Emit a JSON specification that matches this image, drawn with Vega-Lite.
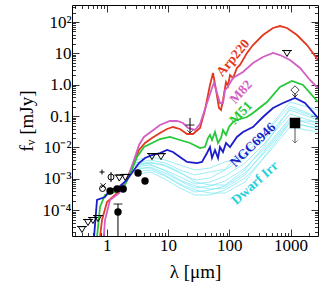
{
"$schema":"https://vega.github.io/schema/vega-lite/v6.json",
"width":246,"height":231,"autosize":"none",
"padding":{"left":72,"top":5,"right":9,"bottom":59},
"config":{"view":{"stroke":"#000","strokeWidth":1},"font":"Liberation Serif",
 "axis":{"domain":false,"grid":false,"tickColor":"#000","labelColor":"#000","titleColor":"#000","labelFont":"Liberation Serif","titleFont":"Liberation Serif","labelFontSize":17,"titleFontSize":19,"titleFontWeight":"normal","tickWidth":0.8,"labelOverlap":false,"labelBound":false,"labelFlush":false}},
"datasets":{
"dwarf":[
{"id":"L1","lam":2.88,"f":3.98e-3},{"id":"L1","lam":5.07,"f":4.96e-3},{"id":"L1","lam":8.91,"f":3.98e-3},{"id":"L1","lam":15.6,"f":2.75e-3},{"id":"L1","lam":27.5,"f":1.91e-3},{"id":"L1","lam":48.3,"f":2.21e-3},{"id":"L1","lam":85,"f":3.44e-3},{"id":"L1","lam":180,"f":5.5e-3},{"id":"L1","lam":382,"f":0.03},{"id":"L1","lam":977,"f":0.282},{"id":"L1","lam":2800,"f":0.157},
{"id":"L2","lam":2.88,"f":3.19e-3},{"id":"L2","lam":5.07,"f":3.98e-3},{"id":"L2","lam":8.91,"f":3.19e-3},{"id":"L2","lam":15.6,"f":1.91e-3},{"id":"L2","lam":27.5,"f":1.32e-3},{"id":"L2","lam":48.3,"f":1.65e-3},{"id":"L2","lam":85,"f":2.0e-3},{"id":"L2","lam":180,"f":9.0e-3},{"id":"L2","lam":382,"f":0.0289},{"id":"L2","lam":977,"f":0.21},{"id":"L2","lam":2800,"f":0.0936},
{"id":"L3","lam":2.88,"f":2.75e-3},{"id":"L3","lam":5.07,"f":3.44e-3},{"id":"L3","lam":8.91,"f":2.56e-3},{"id":"L3","lam":15.6,"f":1.53e-3},{"id":"L3","lam":27.5,"f":9.16e-4},{"id":"L3","lam":48.3,"f":1.06e-3},{"id":"L3","lam":85,"f":1.91e-3},{"id":"L3","lam":180,"f":4.96e-3},{"id":"L3","lam":382,"f":0.02},{"id":"L3","lam":977,"f":0.157},{"id":"L3","lam":2800,"f":0.0751},
{"id":"L4","lam":2.88,"f":2.38e-3},{"id":"L4","lam":5.07,"f":2.75e-3},{"id":"L4","lam":8.91,"f":1.91e-3},{"id":"L4","lam":15.6,"f":1.14e-3},{"id":"L4","lam":27.5,"f":6.83e-4},{"id":"L4","lam":48.3,"f":7.91e-4},{"id":"L4","lam":85,"f":1.23e-3},{"id":"L4","lam":180,"f":3.19e-3},{"id":"L4","lam":382,"f":0.0139},{"id":"L4","lam":977,"f":0.117},{"id":"L4","lam":2800,"f":0.0603},
{"id":"L5","lam":2.88,"f":1.91e-3},{"id":"L5","lam":5.07,"f":2.38e-3},{"id":"L5","lam":8.91,"f":1.53e-3},{"id":"L5","lam":15.6,"f":8.51e-4},{"id":"L5","lam":27.5,"f":5.09e-4},{"id":"L5","lam":48.3,"f":5.89e-4},{"id":"L5","lam":85,"f":8.51e-4},{"id":"L5","lam":180,"f":2.21e-3},{"id":"L5","lam":382,"f":9.6e-3},{"id":"L5","lam":977,"f":0.0871},{"id":"L5","lam":2800,"f":0.0483},
{"id":"L6","lam":2.88,"f":1.65e-3},{"id":"L6","lam":5.07,"f":1.91e-3},{"id":"L6","lam":8.91,"f":1.23e-3},{"id":"L6","lam":15.6,"f":6.34e-4},{"id":"L6","lam":27.5,"f":3.79e-4},{"id":"L6","lam":48.3,"f":4.4e-4},{"id":"L6","lam":85,"f":5.89e-4},{"id":"L6","lam":180,"f":1.53e-3},{"id":"L6","lam":382,"f":7.16e-3},{"id":"L6","lam":977,"f":0.0649},{"id":"L6","lam":2800,"f":0.0388},
{"id":"L7","lam":2.88,"f":1.32e-3},{"id":"L7","lam":5.07,"f":1.65e-3},{"id":"L7","lam":8.91,"f":9.86e-4},{"id":"L7","lam":15.6,"f":5.09e-4},{"id":"L7","lam":27.5,"f":3.04e-4},{"id":"L7","lam":48.3,"f":3.04e-4},{"id":"L7","lam":85,"f":4.4e-4},{"id":"L7","lam":180,"f":1.06e-3},{"id":"L7","lam":382,"f":4.96e-3},{"id":"L7","lam":977,"f":0.0449},{"id":"L7","lam":2800,"f":0.0311},
{"id":"L8","lam":2.88,"f":2.21e-3},{"id":"L8","lam":5.07,"f":2.21e-3},{"id":"L8","lam":8.91,"f":1.32e-3},{"id":"L8","lam":15.6,"f":6.83e-4},{"id":"L8","lam":27.5,"f":4.4e-4},{"id":"L8","lam":48.3,"f":3.52e-4},{"id":"L8","lam":85,"f":3.52e-4},{"id":"L8","lam":180,"f":7.91e-4},{"id":"L8","lam":382,"f":5.5e-3},{"id":"L8","lam":977,"f":0.06},{"id":"L8","lam":2800,"f":0.042},
{"id":"L9","lam":2.88,"f":3.44e-3},{"id":"L9","lam":5.07,"f":2.96e-3},{"id":"L9","lam":8.91,"f":1.77e-3},{"id":"L9","lam":15.6,"f":9.16e-4},{"id":"L9","lam":27.5,"f":5.89e-4},{"id":"L9","lam":48.3,"f":4.73e-4},{"id":"L9","lam":85,"f":5.09e-4},{"id":"L9","lam":180,"f":1.32e-3},{"id":"L9","lam":382,"f":8.3e-3},{"id":"L9","lam":977,"f":0.0751},{"id":"L9","lam":2800,"f":0.0649},
{"id":"L10","lam":2.88,"f":2.56e-3},{"id":"L10","lam":5.07,"f":3.19e-3},{"id":"L10","lam":8.91,"f":2.75e-3},{"id":"L10","lam":15.6,"f":1.65e-3},{"id":"L10","lam":27.5,"f":7.91e-4},{"id":"L10","lam":48.3,"f":6.34e-4},{"id":"L10","lam":85,"f":6.34e-4},{"id":"L10","lam":180,"f":1.91e-3},{"id":"L10","lam":382,"f":0.012},{"id":"L10","lam":977,"f":0.181},{"id":"L10","lam":2800,"f":0.0871}
],
"curves":[
{"name":"Arp220","lam":0.76,"f":1.0e-5},{"name":"Arp220","lam":0.834,"f":4.85e-5},{"name":"Arp220","lam":1.006,"f":1.82e-4},{"name":"Arp220","lam":1.36,"f":3.04e-4},{"name":"Arp220","lam":1.98,"f":7.35e-4},{"name":"Arp220","lam":2.57,"f":2.38e-3},{"name":"Arp220","lam":3.35,"f":8.3e-3},{"name":"Arp220","lam":4.2,"f":0.0139},{"name":"Arp220","lam":5.46,"f":0.02},{"name":"Arp220","lam":7.38,"f":0.0289},{"name":"Arp220","lam":9.6,"f":0.0388},{"name":"Arp220","lam":12.0,"f":0.0449},{"name":"Arp220","lam":15.6,"f":0.0388},{"name":"Arp220","lam":20.4,"f":0.0269},{"name":"Arp220","lam":25.5,"f":0.0269},{"name":"Arp220","lam":33.2,"f":0.0418},{"name":"Arp220","lam":40.0,"f":0.157},{"name":"Arp220","lam":44.8,"f":0.471},{"name":"Arp220","lam":48.3,"f":0.982},{"name":"Arp220","lam":54.1,"f":2.37},{"name":"Arp220","lam":60.6,"f":0.681},{"name":"Arp220","lam":67.8,"f":0.181},{"name":"Arp220","lam":73.1,"f":0.157},{"name":"Arp220","lam":78.7,"f":0.327},{"name":"Arp220","lam":88.2,"f":1.22},{"name":"Arp220","lam":95.0,"f":0.912},{"name":"Arp220","lam":102.5,"f":2.05},{"name":"Arp220","lam":114.8,"f":1.64},{"name":"Arp220","lam":133,"f":3.42},{"name":"Arp220","lam":149,"f":4.27},{"name":"Arp220","lam":194,"f":10.3},{"name":"Arp220","lam":243,"f":18.5},{"name":"Arp220","lam":354,"f":38.6},{"name":"Arp220","lam":516,"f":64.6},{"name":"Arp220","lam":671,"f":74.8},{"name":"Arp220","lam":873,"f":64.6},{"name":"Arp220","lam":1271,"f":38.6},{"name":"Arp220","lam":1852,"f":18.5},{"name":"Arp220","lam":2800,"f":6.2},
{"name":"M82","lam":0.88,"f":1.0e-5},{"name":"M82","lam":0.933,"f":4.85e-5},{"name":"M82","lam":1.127,"f":2.11e-4},{"name":"M82","lam":1.58,"f":3.52e-4},{"name":"M82","lam":2.13,"f":9.16e-4},{"name":"M82","lam":2.78,"f":3.98e-3},{"name":"M82","lam":3.35,"f":0.012},{"name":"M82","lam":4.04,"f":0.0216},{"name":"M82","lam":5.46,"f":0.0335},{"name":"M82","lam":7.38,"f":0.052},{"name":"M82","lam":10.7,"f":0.0698},{"name":"M82","lam":14.0,"f":0.0698},{"name":"M82","lam":17.5,"f":0.0603},{"name":"M82","lam":21.1,"f":0.0418},{"name":"M82","lam":27.5,"f":0.0361},{"name":"M82","lam":33.2,"f":0.056},{"name":"M82","lam":43.2,"f":0.262},{"name":"M82","lam":52.1,"f":0.787},{"name":"M82","lam":56.1,"f":1.14},{"name":"M82","lam":62.8,"f":0.546},{"name":"M82","lam":70.3,"f":0.262},{"name":"M82","lam":78.7,"f":0.262},{"name":"M82","lam":85.0,"f":0.681},{"name":"M82","lam":91.5,"f":0.787},{"name":"M82","lam":114.8,"f":1.64},{"name":"M82","lam":167,"f":2.55},{"name":"M82","lam":243,"f":4.94},{"name":"M82","lam":354,"f":7.67},{"name":"M82","lam":516,"f":10.3},{"name":"M82","lam":671,"f":8.89},{"name":"M82","lam":977,"f":6.16},{"name":"M82","lam":1423,"f":3.42},{"name":"M82","lam":2070,"f":1.42},{"name":"M82","lam":2800,"f":0.787},
{"name":"M51","lam":0.68,"f":1.0e-5},{"name":"M51","lam":0.774,"f":1.26e-4},{"name":"M51","lam":0.933,"f":3.04e-4},{"name":"M51","lam":1.36,"f":3.79e-4},{"name":"M51","lam":1.91,"f":5.48e-4},{"name":"M51","lam":2.57,"f":1.91e-3},{"name":"M51","lam":3.11,"f":4.96e-3},{"name":"M51","lam":4.04,"f":0.0103},{"name":"M51","lam":5.46,"f":0.0139},{"name":"M51","lam":7.38,"f":0.0186},{"name":"M51","lam":10.7,"f":0.0216},{"name":"M51","lam":15.6,"f":0.0173},{"name":"M51","lam":22.8,"f":0.0139},{"name":"M51","lam":33.2,"f":0.0096},{"name":"M51","lam":40.0,"f":0.0103},{"name":"M51","lam":44.8,"f":0.02},{"name":"M51","lam":48.3,"f":0.025},{"name":"M51","lam":52.1,"f":0.0173},{"name":"M51","lam":58.3,"f":0.0311},{"name":"M51","lam":65.3,"f":0.0139},{"name":"M51","lam":73.1,"f":0.02},{"name":"M51","lam":78.7,"f":0.0361},{"name":"M51","lam":88.2,"f":0.025},{"name":"M51","lam":98.6,"f":0.0449},{"name":"M51","lam":114.8,"f":0.0649},{"name":"M51","lam":133,"f":0.0751},{"name":"M51","lam":194,"f":0.0936},{"name":"M51","lam":243,"f":0.126},{"name":"M51","lam":412,"f":0.282},{"name":"M51","lam":671,"f":0.848},{"name":"M51","lam":1052,"f":1.32},{"name":"M51","lam":1593,"f":0.982},{"name":"M51","lam":2800,"f":0.282},
{"name":"NGC6946","lam":0.61,"f":1.0e-5},{"name":"NGC6946","lam":0.691,"f":2.11e-4},{"name":"NGC6946","lam":0.933,"f":2.63e-4},{"name":"NGC6946","lam":1.127,"f":4.4e-4},{"name":"NGC6946","lam":1.58,"f":5.48e-4},{"name":"NGC6946","lam":2.13,"f":9.16e-4},{"name":"NGC6946","lam":2.78,"f":1.91e-3},{"name":"NGC6946","lam":3.35,"f":3.19e-3},{"name":"NGC6946","lam":4.2,"f":4.61e-3},{"name":"NGC6946","lam":5.46,"f":5.74e-3},{"name":"NGC6946","lam":7.38,"f":6.65e-3},{"name":"NGC6946","lam":9.6,"f":8.3e-3},{"name":"NGC6946","lam":12.0,"f":7.16e-3},{"name":"NGC6946","lam":15.6,"f":4.96e-3},{"name":"NGC6946","lam":20.4,"f":3.44e-3},{"name":"NGC6946","lam":29.6,"f":3.19e-3},{"name":"NGC6946","lam":35.7,"f":3.44e-3},{"name":"NGC6946","lam":43.2,"f":6.65e-3},{"name":"NGC6946","lam":48.3,"f":0.0103},{"name":"NGC6946","lam":52.1,"f":4.61e-3},{"name":"NGC6946","lam":58.3,"f":8.3e-3},{"name":"NGC6946","lam":65.3,"f":4.61e-3},{"name":"NGC6946","lam":70.3,"f":0.0103},{"name":"NGC6946","lam":78.7,"f":7.16e-3},{"name":"NGC6946","lam":88.2,"f":0.0139},{"name":"NGC6946","lam":102.5,"f":0.0103},{"name":"NGC6946","lam":133,"f":0.0216},{"name":"NGC6946","lam":167,"f":0.0311},{"name":"NGC6946","lam":243,"f":0.0449},{"name":"NGC6946","lam":354,"f":0.0936},{"name":"NGC6946","lam":516,"f":0.181},{"name":"NGC6946","lam":751,"f":0.262},{"name":"NGC6946","lam":1180,"f":0.378},{"name":"NGC6946","lam":1717,"f":0.262},{"name":"NGC6946","lam":2800,"f":0.0871}
],
"labels":[
{"name":"Arp220","lam":115,"f":7.13},
{"name":"M82","lam":155,"f":0.587},
{"name":"M51","lam":155,"f":0.126},
{"name":"NGC6946","lam":243,"f":0.012},
{"name":"Dwarf Irr","lam":262,"f":7.35e-4}
],
"ul":[
{"lam":0.393,"f":2.5e-5},{"lam":0.492,"f":4.19e-5},{"lam":0.594,"f":4.85e-5},{"lam":0.717,"f":5.62e-5},
{"lam":1.6,"f":1.1e-3},{"lam":2.0,"f":1.15e-3},{"lam":5.46,"f":5.3e-3},{"lam":7.66,"f":5.3e-3},{"lam":873,"f":10.3}
],
"det":[
{"lam":1.13,"f":4.08e-4},{"lam":1.47,"f":4.73e-4},{"lam":1.85,"f":4.73e-4},{"lam":3.23,"f":1.53e-3},{"lam":4.2,"f":8.51e-4},{"lam":1.52,"f":8.73e-5}
],
"err":[
{"lam":1.52,"f":1.57e-4,"f2":1e-6},{"lam":1.17,"f":1.65e-3,"f2":7.9e-4},
{"lam":22.8,"f":0.0871,"f2":0.0289},{"lam":1180,"f":0.546,"f2":0.407}
],
"arrowGray":[{"lam":1180,"f":0.0603,"f2":0.0139}],
"heads":[{"lam":22.8,"f":0.0289},{"lam":1180,"f":0.407}],
"headGray":[{"lam":1180,"f":0.0139}],
"bars":[{"lam":22.8,"f":0.052},{"lam":1.52,"f":1.57e-4}],
"opencirc":[{"lam":1.17,"f":1.14e-3},{"lam":0.85,"f":4.9e-4}],
"plus":[{"lam":0.834,"f":1.65e-3}],
"cross":[{"lam":0.87,"f":6.0e-4}],
"diamond":[{"lam":1180,"f":0.681}],
"square":[{"lam":1180,"f":0.0603}]
},
"resolve":{"axis":{"x":"independent","y":"independent"}},
"encoding":{
 "x":{"field":"lam","type":"quantitative","scale":{"type":"log","domain":[0.27,2800],"nice":false},"axis":null},
 "y":{"field":"f","type":"quantitative","scale":{"type":"log","domain":[1.5e-5,350],"nice":false},"axis":null}
},
"layer":[
{"data":{"name":"dwarf"},"mark":{"type":"line","color":"#84e9f4","strokeWidth":0.8,"clip":true},
 "encoding":{
  "x":{"field":"lam","type":"quantitative","axis":{"orient":"bottom","values":[0.3,0.4,0.5,0.6,0.7,0.8,0.9,1,2,3,4,5,6,7,8,9,10,20,30,40,50,60,70,80,90,100,200,300,400,500,600,700,800,900,1000,2000],"labelExpr":"datum.value==1?'1':datum.value==10?'10':datum.value==100?'100':datum.value==1000?'1000':''","tickSize":{"condition":{"test":"indexof([1,10,100,1000],datum.value)>=0","value":-7},"value":-3.5},"labelPadding":8,"title":"λ [μm]","titlePadding":6}},
  "y":{"field":"f","type":"quantitative","axis":{"orient":"left","values":[2e-5,3e-5,4e-5,5e-5,6e-5,7e-5,8e-5,9e-5,1e-4,2e-4,3e-4,4e-4,5e-4,6e-4,7e-4,8e-4,9e-4,1e-3,2e-3,3e-3,4e-3,5e-3,6e-3,7e-3,8e-3,9e-3,0.01,0.02,0.03,0.04,0.05,0.06,0.07,0.08,0.09,0.1,0.2,0.3,0.4,0.5,0.6,0.7,0.8,0.9,1,2,3,4,5,6,7,8,9,10,20,30,40,50,60,70,80,90,100,200,300],"labelExpr":"datum.value==100?'10²':datum.value==10?'10':datum.value==1?'1.0':datum.value==0.1?'0.1':datum.value==0.01?'10⁻²':datum.value==0.001?'10⁻³':datum.value==0.0001?'10⁻⁴':''","tickSize":{"condition":{"test":"indexof([100,10,1,0.1,0.01,0.001,0.0001],datum.value)>=0","value":-7},"value":-3.5},"labelPadding":8,"title":"fᵥ [mJy]","titlePadding":6}},
  "detail":{"field":"id"}}},
{"data":{"name":"curves"},"mark":{"type":"line","strokeWidth":1.8,"clip":true},
 "encoding":{
  "x":{"field":"lam","type":"quantitative","axis":{"orient":"top","values":[0.3,0.4,0.5,0.6,0.7,0.8,0.9,1,2,3,4,5,6,7,8,9,10,20,30,40,50,60,70,80,90,100,200,300,400,500,600,700,800,900,1000,2000],"labels":false,"title":null,"tickSize":{"condition":{"test":"indexof([1,10,100,1000],datum.value)>=0","value":-7},"value":-3.5}}},
  "y":{"field":"f","type":"quantitative","axis":{"orient":"right","values":[2e-5,3e-5,4e-5,5e-5,6e-5,7e-5,8e-5,9e-5,1e-4,2e-4,3e-4,4e-4,5e-4,6e-4,7e-4,8e-4,9e-4,1e-3,2e-3,3e-3,4e-3,5e-3,6e-3,7e-3,8e-3,9e-3,0.01,0.02,0.03,0.04,0.05,0.06,0.07,0.08,0.09,0.1,0.2,0.3,0.4,0.5,0.6,0.7,0.8,0.9,1,2,3,4,5,6,7,8,9,10,20,30,40,50,60,70,80,90,100,200,300],"labels":false,"title":null,"tickSize":{"condition":{"test":"indexof([100,10,1,0.1,0.01,0.001,0.0001],datum.value)>=0","value":-7},"value":-3.5}}},
  "color":{"field":"name","type":"nominal","scale":{"domain":["Arp220","M82","M51","NGC6946","Dwarf Irr"],"range":["#e2381f","#d35fc4","#25c837","#1c1ccc","#22d0dc"]},"legend":null}}},
{"data":{"name":"labels"},"mark":{"type":"text","font":"Liberation Serif","fontSize":13.5,"fontWeight":"bold","align":"center","baseline":"middle"},
 "encoding":{"text":{"field":"name"},
  "color":{"field":"name","type":"nominal","legend":null},
  "angle":{"field":"name","type":"nominal","scale":{"domain":["Arp220","M82","M51","NGC6946","Dwarf Irr"],"range":[310,318,325,323,321]},"legend":null}}},
{"data":{"name":"err"},"mark":{"type":"rule","color":"#000","strokeWidth":1,"clip":true},"encoding":{"y2":{"field":"f2"}}},
{"data":{"name":"arrowGray"},"mark":{"type":"rule","color":"#555","strokeWidth":1,"clip":true},"encoding":{"y2":{"field":"f2"}}},
{"data":{"name":"heads"},"mark":{"type":"point","shape":"M-1,-1L0,0L1,-1","filled":false,"color":"#000","strokeWidth":1,"size":30},"encoding":{}},
{"data":{"name":"headGray"},"mark":{"type":"point","shape":"M-1,-1L0,0L1,-1","filled":false,"color":"#555","strokeWidth":1,"size":30},"encoding":{}},
{"data":{"name":"bars"},"mark":{"type":"point","shape":"M-1,0L1,0","filled":false,"color":"#000","strokeWidth":1.2,"size":80},"encoding":{}},
{"data":{"name":"ul"},"mark":{"type":"point","shape":"M-1,-0.7L1,-0.7L0,1ZM-1.4,-0.7L1.4,-0.7","filled":false,"color":"#000","strokeWidth":1,"size":50,"opacity":1},"encoding":{}},
{"data":{"name":"det"},"mark":{"type":"point","shape":"circle","filled":true,"color":"#000","size":55,"opacity":1},"encoding":{}},
{"data":{"name":"opencirc"},"mark":{"type":"point","shape":"circle","filled":false,"color":"#000","strokeWidth":1,"size":35,"opacity":1},"encoding":{}},
{"data":{"name":"plus"},"mark":{"type":"point","shape":"M-1,0L1,0M0,-1L0,1","filled":false,"color":"#000","strokeWidth":1,"size":25,"opacity":1},"encoding":{}},
{"data":{"name":"cross"},"mark":{"type":"point","shape":"M-1,-1L1,1M-1,1L1,-1","filled":false,"color":"#000","strokeWidth":1,"size":25,"opacity":1},"encoding":{}},
{"data":{"name":"diamond"},"mark":{"type":"point","shape":"diamond","filled":false,"color":"#444","strokeWidth":1,"size":70,"opacity":1},"encoding":{}},
{"data":{"name":"square"},"mark":{"type":"point","shape":"square","filled":true,"color":"#000","size":110,"opacity":1},"encoding":{}}
]
}
